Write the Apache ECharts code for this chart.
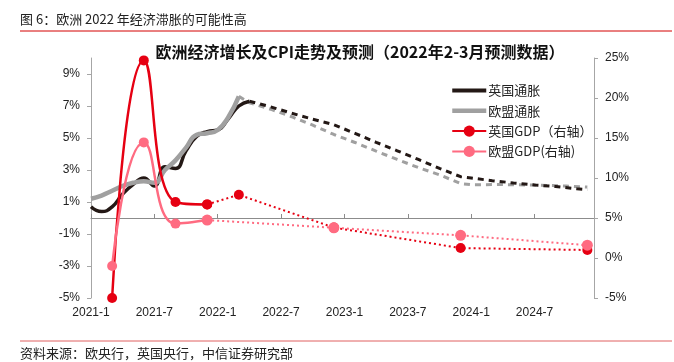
<!DOCTYPE html>
<html><head><meta charset="utf-8">
<script src="https://cdn.jsdelivr.net/npm/echarts@6/dist/echarts.min.js"></script>
<style>html,body{margin:0;padding:0;background:#fff}#c{width:674px;height:362px}</style>
</head><body><div id="c"></div>
<script>
// ---- tick labels ----
const xTickLabels = ['2021-1','2021-7','2022-1','2022-7','2023-1','2023-7','2024-1','2024-7'];
const leftTicks = [-5,-3,-1,1,3,5,7,9];
const rightTicks = [-5,0,5,10,15,20,25];

// ---- inflation, actual (left axis, %) ----
const ukCpiMonths = ['2021-1','2021-2','2021-3','2021-4','2021-5','2021-6','2021-7','2021-8','2021-9','2021-10','2021-11','2021-12','2022-1','2022-2','2022-3','2022-4'];
const ukCpi       = [0.7,0.4,0.7,1.5,2.1,2.5,2.0,3.2,3.1,4.2,5.1,5.4,5.5,6.2,7.0,7.3];
const euCpiMonths = ['2021-1','2021-2','2021-3','2021-4','2021-5','2021-6','2021-7','2021-8','2021-9','2021-10','2021-11','2021-12','2022-1','2022-2','2022-3'];
const euCpi       = [1.2,1.4,1.7,2.0,2.2,2.3,2.2,3.0,3.6,4.4,5.2,5.3,5.5,6.3,7.6];

// ---- inflation, forecast ----
const ukCpiFcstMonths = ['2022-4','2022-6','2022-8','2022-10','2022-12','2023-2','2023-4','2023-6','2023-8','2023-10','2023-12','2024-1','2024-3','2024-5','2024-7','2024-9','2024-11','2024-12'];
const ukCpiFcst       = [7.3,6.95,6.55,6.17,5.83,5.29,4.73,4.2,3.66,3.1,2.58,2.5,2.33,2.19,2.06,1.97,1.83,1.77];
const euCpiFcstMonths = ['2022-3','2022-4','2022-6','2022-8','2022-10','2022-12','2023-2','2023-4','2023-6','2023-8','2023-10','2023-12','2024-1','2024-4','2024-7','2024-10','2024-12'];
const euCpiFcst       = [7.6,7.2,6.8,6.33,5.8,5.22,4.72,4.18,3.66,3.15,2.7,2.15,2.08,2.09,2.06,2.0,1.93];

// ---- GDP yoy (right axis, %) ----
const gdpMonths = ['2021-3','2021-6','2021-9','2021-12'];
const ukGdp     = [-5.0,24.7,7.0,6.7];
const euGdp     = [-1.0,14.45,4.3,4.74];
const ukGdpFcstMonths = ['2021-12','2022-3','2022-12','2023-12','2024-12'];
const ukGdpFcst       = [6.7,7.9,3.8,1.24,1.0];
const euGdpFcstMonths = ['2021-12','2022-12','2023-12','2024-12'];
const euGdpFcst       = [4.74,3.78,2.83,1.6];

function toM(s){ const p = s.split('-').map(Number); return (p[0]-2021)*12 + (p[1]-1); }
function pairs(months, vals){ return months.map((s,i)=>[toM(s), vals[i]]); }

const xTickVals = xTickLabels.map(toM);
const FONT = '"Liberation Sans", Arial, "Noto Sans CJK SC", sans-serif';
const CJK = '"Noto Sans CJK SC", "Liberation Sans", sans-serif';
const BLACK = '#231815', GRAY = '#a0a0a0', RED = '#e60012', PINK = '#ff6b81';
const XMAX = 47.63;

const chart = echarts.init(document.getElementById('c'), null, {renderer:'canvas'});
chart.setOption({
  animation:false,
  backgroundColor:'#fff',
  grid:{left:91, right:80, top:58, bottom:64, containLabel:false},
  legend:{
    orient:'vertical', left:445, top:79, itemWidth:34, itemHeight:14, itemGap:7.3,
    data:[
      {name:'英国通胀', itemStyle:{opacity:0}, lineStyle:{width:4}},
      {name:'欧盟通胀', itemStyle:{opacity:0}, lineStyle:{width:4.5}},
      {name:'英国GDP（右轴）'},
      {name:'欧盟GDP(右轴)'}
    ],
    textStyle:{fontSize:13, color:'#222', fontFamily:CJK, padding:[0,0,0,-3]}
  },
  xAxis:[
    {type:'value', min:0, max:XMAX, position:'bottom',
     axisLine:{show:false, onZero:false}, axisTick:{show:false}, splitLine:{show:false},
     axisLabel:{customValues:xTickVals, margin:9, fontSize:12, color:'#222', fontFamily:FONT,
       formatter:v=>{const i=xTickVals.indexOf(Math.round(v)); return i>=0?xTickLabels[i]:'';}}},
    {type:'value', min:0, max:XMAX, position:'bottom',
     axisLine:{show:true, onZero:true, onZeroAxisIndex:0, lineStyle:{color:'#8c8c8c', width:1}},
     axisTick:{show:true, inside:true, length:4, customValues:xTickVals, lineStyle:{color:'#8c8c8c'}},
     axisLabel:{show:false}, splitLine:{show:false}}
  ],
  yAxis:[
    {type:'value', min:-5, max:10, position:'left',
     axisLine:{show:true, onZero:false, lineStyle:{color:'#a6a6a6'}},
     axisTick:{show:true, length:4, customValues:leftTicks, lineStyle:{color:'#a6a6a6'}},
     axisLabel:{customValues:leftTicks, formatter:v=>v+'%', margin:11, fontSize:12, color:'#222', fontFamily:FONT},
     splitLine:{show:false}},
    {type:'value', min:-5, max:25, interval:5, position:'right',
     axisLine:{show:true, onZero:false, lineStyle:{color:'#a6a6a6'}},
     axisTick:{show:true, length:4, lineStyle:{color:'#a6a6a6'}},
     axisLabel:{formatter:v=>v+'%', margin:11, fontSize:12, color:'#222', fontFamily:FONT},
     splitLine:{show:false}}
  ],
  series:[
    {name:'英国通胀', type:'line', yAxisIndex:0, data:pairs(ukCpiMonths, ukCpi), smooth:0.5,
     symbol:'none', lineStyle:{color:BLACK, width:3.5}, itemStyle:{color:BLACK}, z:3},
    {name:'欧盟通胀', type:'line', yAxisIndex:0, data:pairs(euCpiMonths, euCpi), smooth:0.5,
     symbol:'none', lineStyle:{color:GRAY, width:4.5}, itemStyle:{color:GRAY}, z:4},
    {name:'英国通胀预测', type:'line', yAxisIndex:0, data:pairs(ukCpiFcstMonths, ukCpiFcst),
     symbol:'none', lineStyle:{color:BLACK, width:3, type:[6,5]}, z:3},
    {name:'欧盟通胀预测', type:'line', yAxisIndex:0, data:pairs(euCpiFcstMonths, euCpiFcst),
     symbol:'none', lineStyle:{color:GRAY, width:3, type:[6,5]}, z:2},
    {name:'英国GDP预测', type:'line', yAxisIndex:1, data:pairs(ukGdpFcstMonths, ukGdpFcst),
     symbol:'circle', symbolSize:10, lineStyle:{color:RED, width:2, type:[2,3]}, itemStyle:{color:RED}, z:5},
    {name:'英国GDP（右轴）', type:'line', yAxisIndex:1, data:pairs(gdpMonths, ukGdp), smooth:0.5,
     symbol:'circle', symbolSize:10, lineStyle:{color:RED, width:2.5}, itemStyle:{color:RED}, z:5},
    {name:'欧盟GDP预测', type:'line', yAxisIndex:1, data:pairs(euGdpFcstMonths, euGdpFcst),
     symbol:'circle', symbolSize:11, lineStyle:{color:PINK, width:2, type:[2,3]}, itemStyle:{color:PINK}, z:6},
    {name:'欧盟GDP(右轴)', type:'line', yAxisIndex:1, data:pairs(gdpMonths, euGdp), smooth:0.5,
     symbol:'circle', symbolSize:10, lineStyle:{color:PINK, width:2.5}, itemStyle:{color:PINK}, z:6}
  ],
  graphic:[
    {type:'text', x:20, y:19, style:{text:'图 6：欧洲 2022 年经济滞胀的可能性高', font:'13px '+CJK, fill:'#222', verticalAlign:'middle', textVerticalAlign:'middle'}},
    {type:'line', shape:{x1:20, y1:31, x2:672, y2:31}, style:{stroke:'#d40000', lineWidth:1}},
    {type:'text', x:360, y:52, style:{text:'欧洲经济增长及CPI走势及预测（2022年2-3月预测数据）', font:'bold 16px '+CJK, fill:'#111', align:'center', textAlign:'center', verticalAlign:'middle', textVerticalAlign:'middle'}},
    {type:'line', shape:{x1:20, y1:341, x2:672, y2:341}, style:{stroke:'#e06060', lineWidth:1}},
    {type:'text', x:20, y:353, style:{text:'资料来源：欧央行，英国央行，中信证券研究部', font:'13px '+CJK, fill:'#222', verticalAlign:'middle', textVerticalAlign:'middle'}}
  ]
});
</script></body></html>
